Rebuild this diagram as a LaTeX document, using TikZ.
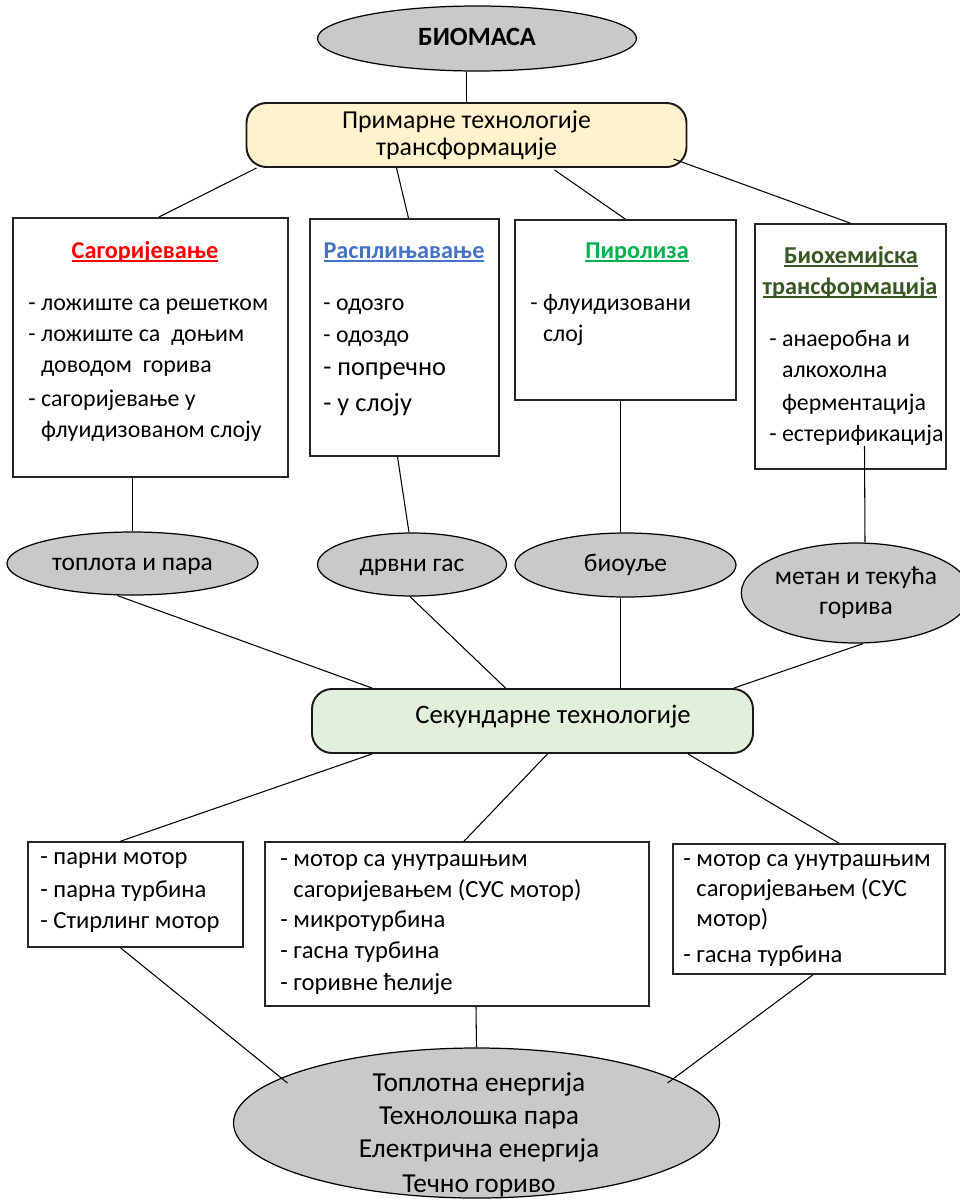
\documentclass[tikz,border=0pt]{standalone}
\usepackage{fontspec}
\setmainfont{Carlito}
\usetikzlibrary{calc,shapes.geometric}

\definecolor{ovalgray}{RGB}{200,201,203}
\definecolor{primfill}{RGB}{255,242,204}
\definecolor{secfill}{RGB}{226,239,218}
\definecolor{sagred}{RGB}{255,0,0}
\definecolor{rasblue}{RGB}{68,114,196}
\definecolor{pirgreen}{RGB}{0,176,80}
\definecolor{biogreen}{RGB}{56,87,35}

\newcommand\itemfont{\fontsize{13.6}{16}\selectfont}
\newcommand\bigitemfont{\fontsize{15}{17}\selectfont}
\newcommand\lowfont{\fontsize{14}{16}\selectfont}
\newcommand\ovalfont{\fontsize{14.5}{17}\selectfont}
\newcommand\headfont{\fontsize{14.7}{15.4}\selectfont}
\newcommand\outfont{\fontsize{15.6}{17}\selectfont}
\newcommand\undl[1]{\setbox0\hbox{#1}\rlap{\rule[-2.2pt]{\wd0}{0.9pt}}\box0}

\begin{document}
\begin{tikzpicture}[x=0.02cm, y=-0.02cm,
  conn/.style={line width=0.6pt},
  sz/.style 2 args={minimum width=#1*0.02cm, minimum height=#2*0.02cm},
  oval/.style={ellipse, draw, line width=0.7pt, fill=ovalgray, inner sep=0pt, align=center, font=\ovalfont},
  oneline/.style={text height=1.9ex, text depth=0.25ex},
  plainbox/.style={rectangle, draw=black!85, line width=0.9pt, inner sep=0pt},
  roundbox/.style={rectangle, draw=black!90, line width=1.1pt, rounded corners=0.4cm, inner sep=0pt, align=center, font=\headfont},
  txt/.style={inner sep=0pt, anchor=mid west, font=\itemfont},
  ttl/.style={inner sep=0pt, anchor=mid, font=\fontsize{13.8}{16}\selectfont\bfseries}]

  \useasboundingbox (0,0) rectangle (960,1201);

  % top
  \node[oval, oneline, sz={319}{65}, font=\fontsize{15}{16}\selectfont\bfseries] (bio) at (477,38.5) {БИОМАСА};
  \node[roundbox, fill=primfill, sz={440}{64}] (prim) at (466.5,135) {Примарне технологије\\трансформације};

  % primary technologies
  \node[plainbox, sz={275}{259}] (b1) at (150.5,347.5) {};
  \node[plainbox, sz={189}{237}] (b2) at (404.5,337.5) {};
  \node[plainbox, sz={221}{180}] (b3) at (625.5,310) {};
  \node[plainbox, sz={191}{245}] (b4) at (850.5,346.5) {};

  \node[ttl, text=sagred] (t1) at (145,254) {\undl{Сагоријевање}};
  \node[ttl, text=rasblue] (t2) at (404,254) {\undl{Расплињавање}};
  \node[ttl, text=pirgreen] (t3) at (637,254) {\undl{Пиролиза}};
  \node[ttl, text=biogreen] (t4a) at (851,259) {\undl{Биохемијска}};
  \node[ttl, text=biogreen] (t4b) at (850,290) {\undl{трансформација}};

  \foreach \n/\x/\y/\t in {1/28/306/{- ложиште са решетком}, 2/28/337/{- ложиште са\ \ доњим},
      3/28/368/{\hphantom{-} доводом\ \ горива}, 4/28/402/{- сагоријевање у},
      5/28/433/{\hphantom{-} флуидизованом слоју}}
    \node[txt] (b1l\n) at (\x,\y) {\t};
  \foreach \n/\x/\y/\t in {1/323/306/{- одозго}, 2/323/338/{- одоздо}}
    \node[txt] (b2l\n) at (\x,\y) {\t};
  \foreach \n/\x/\y/\t in {3/323/371/{- попречно}, 4/323/407/{- у слоју}}
    \node[txt, font=\bigitemfont] (b2l\n) at (\x,\y) {\t};
  \foreach \n/\x/\y/\t in {1/530/306/{- флуидизовани}, 2/530/337/{\hphantom{-} слој}}
    \node[txt] (b3l\n) at (\x,\y) {\t};
  \foreach \n/\x/\y/\t in {1/769/342/{- анаеробна и}, 2/769/373/{\hphantom{-} алкохолна},
      3/769/406/{\hphantom{-} ферментација}, 4/769/437/{- естерификација}}
    \node[txt] (b4l\n) at (\x,\y) {\t};

  % products
  \node[oval, oneline, sz={251}{63}] (m1) at (132.5,563.5) {топлота и пара};
  \node[oval, oneline, sz={189}{63}] (m2) at (412,564.5) {дрвни гас};
  \node[oval, oneline, sz={221}{64}] (m3) at (625.5,565) {биоуље};
  \node[oval, sz={205}{100}] (m4) at (856,593) {метан и текућа\\горива};

  % secondary technologies
  \node[roundbox, fill=secfill, sz={441}{64}] (sec) at (532.5,721) {};
  \node[inner sep=0pt, anchor=mid, font=\fontsize{15.2}{16}\selectfont] (sectext) at (553,719) {Секундарне технологије};

  \node[plainbox, sz={215}{105}] (l1) at (135.5,894.5) {};
  \node[plainbox, sz={384}{164}] (l2) at (457,924) {};
  \node[plainbox, sz={272}{130}] (l3) at (809,909) {};

  \foreach \n/\y/\t in {1/860/{- парни мотор}, 2/893/{- парна турбина}, 3/924/{- Стирлинг мотор}}
    \node[txt, font=\lowfont] (l1l\n) at (40,\y) {\t};
  \foreach \n/\y/\t in {1/862/{- мотор са унутрашњим}, 2/893/{\hphantom{-} сагоријевањем (СУС мотор)},
      3/923/{- микротурбина}, 4/954/{- гасна турбина}, 5/986/{- горивне ћелије}}
    \node[txt, font=\lowfont] (l2l\n) at (280,\y) {\t};
  \foreach \n/\y/\t in {1/862/{- мотор са унутрашњим}, 2/892/{\hphantom{-} сагоријевањем (СУС},
      3/922/{\hphantom{-} мотор)}, 4/958/{- гасна турбина}}
    \node[txt, font=\lowfont] (l3l\n) at (683,\y) {\t};

  % output
  \node[oval, sz={486}{150}] (out) at (476.5,1123) {};
  \foreach \n/\y/\t in {1/1087/{Топлотна енергија}, 2/1120/{Технолошка пара},
      3/1153/{Електрична енергија}, 4/1188/{Течно гориво}}
    \node[inner sep=0pt, anchor=mid, font=\outfont] (out\n) at (479,\y) {\t};

  % connectors
  \draw[conn] (bio.south -| prim.north) -- (prim.north);
  \draw[conn] ($(prim.south west)+(11,0)$) -- ($(b1.north)+(8,0)$);
  \draw[conn] ($(prim.south)+(-70,0)$) -- ($(b2.north)+(4,0)$);
  \draw[conn] ($(prim.south)+(88,2)$) -- (b3.north);
  \draw[conn] ($(prim.south east)+(-14,-9)$) -- (b4.north);

  \draw[conn] (b1.south -| m1.north) -- (m1.north);
  \draw[conn] ($(b2.south)+(-7,0)$) -- ($(m2.north)+(-3,0)$);
  \draw[conn] ($(b3.south)+(-5,0)$) -- ($(m3.north)+(-5,0)$);
  \draw[conn] ($(b4.south)+(14,-24)$) -- ($(m4.north)+(9,0)$);

  \draw[conn] ($(m1.south)+(-15,0)$) -- ($(sec.north west)+(61,0)$);
  \draw[conn] ($(m2.south)+(-2,0)$) -- ($(sec.north)+(-27,0)$);
  \draw[conn] ($(m3.south)+(-5,0)$) -- ($(sec.north)+(88,0)$);
  \draw[conn] ($(m4.south)+(7,0)$) -- ($(sec.north east)+(-20,0)$);

  \draw[conn] ($(sec.south west)+(61,0)$) -- ($(l1.north)+(-15,0)$);
  \draw[conn] ($(sec.south)+(15,0)$) -- ($(l2.north)+(7,0)$);
  \draw[conn] ($(sec.south east)+(-66,0)$) -- ($(l3.north)+(30,0)$);

  \draw[conn] ($(l1.south)+(-15,0)$) -- ($(out.center)+(-189,-40)$);
  \draw[conn] ($(l2.south)+(19,0)$) -- (out.north);
  \draw[conn] ($(l3.south)+(4,0)$) -- ($(out.center)+(191,-40)$);
\end{tikzpicture}
\end{document}
